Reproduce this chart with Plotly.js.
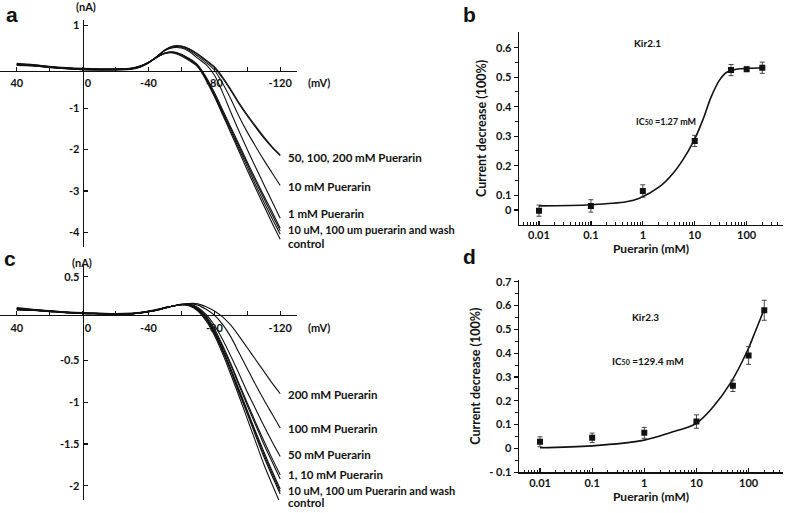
<!DOCTYPE html>
<html><head><meta charset="utf-8">
<script src="https://cdn.plot.ly/plotly-3.0.1.min.js"></script>
<style>html,body{margin:0;padding:0;background:#fff}#chart{width:787px;height:513px}</style>
</head><body><div id="chart"></div>
<script>
// ---------- DATA ----------
// Membrane potential (mV) sampled for the I-V traces
const voltage = [40,30,20,10,0,-10,-20,-30,-35,-40,-45,-50,-55,-60,-65,-70,-75,-80,-85,-90,-95,-100,-105,-110,-115,-120];

// Panel a: Kir2.1 currents (nA)
const aControl = [0.07,0.04,0.0,-0.03,-0.05,-0.06,-0.06,-0.04,0.01,0.10,0.23,0.32,0.33,0.26,0.14,-0.01,-0.33,-0.72,-1.16,-1.60,-2.05,-2.50,-2.93,-3.35,-3.77,-4.17];
const a10uM    = [0.05,0.03,-0.01,-0.04,-0.06,-0.07,-0.07,-0.05,0.0,0.10,0.23,0.33,0.35,0.29,0.17,0.02,-0.28,-0.66,-1.08,-1.50,-1.93,-2.35,-2.77,-3.17,-3.57,-3.96];
const a100uM   = [0.03,0.02,-0.02,-0.05,-0.07,-0.08,-0.08,-0.06,-0.01,0.09,0.22,0.33,0.36,0.30,0.19,0.04,-0.25,-0.62,-1.04,-1.46,-1.88,-2.30,-2.71,-3.11,-3.50,-3.90];
const aWash    = [0.08,0.05,0.01,-0.02,-0.04,-0.05,-0.05,-0.03,0.02,0.11,0.23,0.32,0.34,0.28,0.16,0.01,-0.30,-0.69,-1.12,-1.55,-1.99,-2.42,-2.85,-3.26,-3.66,-4.05];
const a1mM     = [0.06,0.04,0.0,-0.03,-0.05,-0.06,-0.06,-0.04,0.01,0.10,0.24,0.39,0.46,0.45,0.36,0.20,0.05,-0.20,-0.62,-1.10,-1.56,-2.00,-2.42,-2.84,-3.25,-3.66];
const a10mM    = [0.05,0.03,-0.01,-0.04,-0.06,-0.07,-0.07,-0.05,0.0,0.10,0.24,0.40,0.48,0.47,0.39,0.25,0.10,-0.08,-0.40,-0.78,-1.20,-1.58,-1.92,-2.25,-2.56,-2.87];
const a50mM    = [0.06,0.04,0.0,-0.03,-0.05,-0.06,-0.06,-0.04,0.01,0.10,0.24,0.41,0.49,0.49,0.42,0.29,0.14,-0.02,-0.28,-0.58,-0.90,-1.19,-1.46,-1.72,-1.95,-2.15];
const a200mM   = [0.04,0.02,-0.02,-0.05,-0.07,-0.08,-0.07,-0.05,0.0,0.09,0.23,0.40,0.50,0.50,0.43,0.31,0.16,0.0,-0.25,-0.55,-0.87,-1.16,-1.43,-1.69,-1.93,-2.13];

// Panel c: Kir2.3 currents (nA)
const cControl = [0.13,0.11,0.09,0.075,0.065,0.06,0.055,0.06,0.07,0.085,0.105,0.13,0.15,0.165,0.15,0.09,-0.03,-0.20,-0.42,-0.67,-0.93,-1.20,-1.47,-1.74,-1.98,-2.21];
const cWash    = [0.11,0.10,0.085,0.07,0.06,0.055,0.05,0.055,0.065,0.08,0.10,0.125,0.15,0.165,0.155,0.10,-0.01,-0.18,-0.39,-0.63,-0.89,-1.14,-1.40,-1.65,-1.88,-2.10];
const c100uM   = [0.12,0.105,0.095,0.08,0.07,0.065,0.06,0.065,0.075,0.09,0.11,0.13,0.15,0.17,0.16,0.11,0.0,-0.16,-0.37,-0.60,-0.85,-1.10,-1.35,-1.59,-1.82,-2.04];
const c10uM    = [0.10,0.095,0.08,0.07,0.06,0.055,0.05,0.055,0.065,0.08,0.10,0.125,0.15,0.165,0.16,0.105,-0.005,-0.17,-0.38,-0.62,-0.87,-1.12,-1.37,-1.62,-1.85,-2.07];
const c1mM     = [0.12,0.10,0.09,0.075,0.065,0.06,0.055,0.06,0.07,0.085,0.105,0.13,0.15,0.17,0.165,0.12,0.02,-0.14,-0.34,-0.56,-0.80,-1.04,-1.27,-1.50,-1.71,-1.92];
const c10mM    = [0.11,0.10,0.085,0.07,0.06,0.055,0.05,0.055,0.065,0.08,0.10,0.125,0.15,0.17,0.17,0.13,0.03,-0.12,-0.32,-0.54,-0.78,-1.01,-1.24,-1.46,-1.67,-1.87];
const c50mM    = [0.12,0.105,0.09,0.075,0.065,0.06,0.055,0.06,0.07,0.085,0.105,0.13,0.15,0.165,0.17,0.13,0.05,-0.08,-0.25,-0.45,-0.66,-0.88,-1.08,-1.28,-1.47,-1.65];
const c100mM   = [0.11,0.10,0.085,0.07,0.06,0.055,0.05,0.055,0.065,0.08,0.10,0.125,0.15,0.165,0.175,0.16,0.11,0.04,-0.07,-0.22,-0.41,-0.60,-0.79,-0.97,-1.14,-1.31];
const c200mM   = [0.12,0.10,0.09,0.075,0.065,0.06,0.055,0.06,0.07,0.085,0.105,0.13,0.15,0.165,0.18,0.175,0.14,0.09,0.02,-0.08,-0.21,-0.35,-0.49,-0.63,-0.77,-0.90];

// Panel b: Kir2.1 dose-response
const concB   = [0.01,0.1,1,10,50,100,200];
const decB    = [0.048,0.064,0.1145,0.284,0.524,0.527,0.532];
const errB    = [0.019,0.021,0.021,0.019,0.019,0.008,0.019];
const fitBx   = [0.01,0.1,0.48,0.86,2.1,3.8,5.9,9.6,14.3,20.8,30,40,63,113,200];
const fitBy   = [0.064,0.068,0.078,0.09,0.129,0.174,0.22,0.284,0.355,0.434,0.49,0.515,0.527,0.53,0.532];

// Panel d: Kir2.3 dose-response
const concD   = [0.01,0.1,1,10,50,100,200];
const decD    = [0.028,0.0445,0.0655,0.113,0.263,0.39,0.58];
const errD    = [0.021,0.02,0.023,0.028,0.024,0.037,0.042];
const fitDx   = [0.01,0.1,1,3.1,9.8,21,44.5,93,134,200];
const fitDy   = [0.003,0.011,0.035,0.066,0.105,0.175,0.273,0.406,0.49,0.585];

// Tick labels
const ivTickVals = [40,0,-40,-80,-120];
const ivTickText = ['40','\u00a0\u00a0\u00a0\u00a00','-40','-80','-120'];
const ivMinorVals = [20,-20,-60,-100];
const concTickVals = [0.01,0.1,1,10,100];
const concTickText = ['0.01','0.1','1','10','100'];
const aYVals = [1,-1,-2,-3,-4];
const aYText = ['1','-1','-2','-3','-4'];
const cYVals = [0.5,-0.5,-1,-1.5,-2];
const cYText = ['0.5','-0.5','-1','-1.5','-2'];
const bYVals = [0.05,0.1,0.2,0.3,0.4,0.5,0.6];
const bYText = ['0','0.1','0.2','0.3','0.4','0.5','0.6'];
const dYVals = [-0.1,0,0.1,0.2,0.3,0.4,0.5,0.6,0.7];
const dYText = ['- 0.1','0','0.1','0.2','0.3','0.4','0.5','0.6','0.7'];

// ---------- LAYOUT HELPERS ----------
const W = 787, H = 513;
const fx = p => p / W;
const fy = p => 1 - p / H;
const FONT = 'Lato, "Open Sans", sans-serif';
const INK = '#111';
const tickFont = {family: FONT, size: 11, color: INK, weight: 'bold'};

const logMinor = [];
for (let k = -3; k <= 2; k++) for (let m = 2; m <= 9; m++) logMinor.push(+(m * Math.pow(10, k)).toPrecision(3));

const traces = [];
function ivTrace(y, xa, ya) {
  return {x: voltage, y: y, mode: 'lines', line: {color: INK, width: 1.1, shape: 'spline', smoothing: 0.8},
          xaxis: xa, yaxis: ya, showlegend: false, hoverinfo: 'skip'};
}
[aControl, a10uM, a100uM, aWash, a1mM, a10mM, a50mM, a200mM].forEach(s => traces.push(ivTrace(s, 'x', 'y')));
[cControl, cWash, c100uM, c10uM, c1mM, c10mM, c50mM, c100mM, c200mM].forEach(s => traces.push(ivTrace(s, 'x2', 'y2')));

traces.push({x: fitBx, y: fitBy, mode: 'lines', line: {color: INK, width: 1.6, shape: 'spline'}, xaxis: 'x3', yaxis: 'y3', showlegend: false});
traces.push({x: concB, y: decB, mode: 'markers', marker: {symbol: 'square', size: 6, color: INK},
  error_y: {type: 'data', array: errB, color: '#333', thickness: 0.9, width: 2.5}, xaxis: 'x3', yaxis: 'y3', showlegend: false});
traces.push({x: fitDx, y: fitDy, mode: 'lines', line: {color: INK, width: 1.6, shape: 'spline'}, xaxis: 'x4', yaxis: 'y4', showlegend: false});
traces.push({x: concD, y: decD, mode: 'markers', marker: {symbol: 'square', size: 6, color: INK},
  error_y: {type: 'data', array: errD, color: '#333', thickness: 0.9, width: 2.5}, xaxis: 'x4', yaxis: 'y4', showlegend: false});

const ivX = (pos) => ({
  domain: [fx(0), fx(297)], range: [50.2, -130.2], anchor: 'free', position: fy(pos),
  showline: true, linecolor: INK, linewidth: 1.4, ticks: 'inside', ticklen: 4, tickwidth: 1.2, tickcolor: INK,
  tickmode: 'array', tickvals: ivTickVals, ticktext: ivTickText, tickfont: tickFont,
  minor: {tickmode: 'array', tickvals: ivMinorVals, ticks: 'inside', ticklen: 4, tickwidth: 1.2, tickcolor: INK},
  showgrid: false, zeroline: false, ticklabelstandoff: 2
});
const ivY = (top, bot, range, vals, text) => ({
  domain: [fy(bot), fy(top)], range: range, anchor: 'free', position: fx(82.7),
  showline: true, linecolor: INK, linewidth: 1.4, ticks: 'inside', ticklen: 4, tickwidth: 1.2, tickcolor: INK,
  tickmode: 'array', tickvals: vals, ticktext: text, tickfont: tickFont,
  showgrid: false, zeroline: false, ticklabelstandoff: 1
});
const concX = (range, ya, title) => ({
  type: 'log', domain: [fx(519), fx(783)], range: range, anchor: ya,
  showline: true, linecolor: INK, linewidth: 1.4, ticks: 'inside', ticklen: 4, tickwidth: 1.2, tickcolor: INK,
  tickmode: 'array', tickvals: concTickVals, ticktext: concTickText, tickfont: tickFont,
  minor: {tickmode: 'array', tickvals: logMinor, ticks: 'inside', ticklen: 2.5, tickwidth: 1, tickcolor: INK},
  showgrid: false, zeroline: false,
  title: {text: title, font: {family: FONT, size: 12, color: INK, weight: 'bold'}, standoff: 2}
});
const decY = (top, bot, range, vals, text, minorVals, xa) => ({
  domain: [fy(bot), fy(top)], range: range, anchor: xa,
  showline: true, linecolor: INK, linewidth: 1.4, ticks: 'outside', ticklen: 4, tickwidth: 1.2, tickcolor: INK,
  tickmode: 'array', tickvals: vals, ticktext: text, tickfont: tickFont,
  minor: {tickmode: 'array', tickvals: minorVals, ticks: 'outside', ticklen: 2.5, tickwidth: 1, tickcolor: INK},
  showgrid: false, zeroline: false,
  title: {text: 'Current decrease (100%)', font: {family: FONT, size: 12.5, color: INK, weight: 'bold'}, standoff: 6}
});

const lab = (txt, x, y, size, opts) => Object.assign({
  text: txt, xref: 'paper', yref: 'paper', x: fx(x), y: fy(y), showarrow: false,
  xanchor: 'left', yanchor: 'middle', font: {family: FONT, size: size || 11, color: INK, weight: 'bold'}
}, opts || {});
const letterFont = {family: '"Liberation Sans", Arial, sans-serif', size: 21, color: INK, weight: 'bold'};
const ic50 = v => 'IC<span style="font-size:7px">50</span> =' + v + ' mM';

const annotations = [
  lab('a', 12, 14, 21, {xanchor: 'center', font: letterFont}),
  lab('b', 469, 14, 21, {xanchor: 'center', font: letterFont}),
  lab('c', 10, 258, 21, {xanchor: 'center', font: letterFont}),
  lab('d', 470, 256, 21, {xanchor: 'center', font: letterFont}),
  lab('(nA)', 86, 7, 11, {xanchor: 'center'}),
  lab('(mV)', 319, 83, 11, {xanchor: 'center'}),
  lab('(nA)', 82, 262, 11, {xanchor: 'center'}),
  lab('(mV)', 319, 327, 11, {xanchor: 'center'}),
  lab('50, 100, 200 mM Puerarin', 286, 157, 11.5),
  lab('10 mM Puerarin', 286, 186, 11.5),
  lab('1 mM Puerarin', 286, 213, 11.5),
  lab('10 uM, 100 um puerarin and wash', 286, 229, 11),
  lab('control', 286, 243.5, 11.5),
  lab('200 mM Puerarin', 286, 394, 11.5),
  lab('100 mM Puerarin', 286, 428, 11.5),
  lab('50 mM Puerarin', 286, 454, 11.5),
  lab('1, 10 mM Puerarin', 286, 474, 11.5),
  lab('10 uM, 100 um Puerarin and wash', 286, 490, 11),
  lab('control', 286, 502.5, 11.5),
  lab('Kir2.1', 647, 43, 10, {xanchor: 'center'}),
  lab(ic50('1.27'), 634, 121, 9),
  lab('Kir2.3', 645, 317, 10, {xanchor: 'center'}),
  lab(ic50('129.4'), 610, 361, 10)
];

const layout = {
  width: W, height: H, margin: {l: 0, r: 0, t: 0, b: 0},
  paper_bgcolor: '#fff', plot_bgcolor: 'rgba(0,0,0,0)', showlegend: false,
  font: {family: FONT, color: INK},
  xaxis: ivX(70.5),
  yaxis: ivY(20, 247, [-4.355, 1.128], aYVals, aYText),
  xaxis2: ivX(315),
  yaxis2: ivY(265, 500, [-2.171, 0.64], cYVals, cYText),
  xaxis3: concX([-2.385, 2.70], 'y3', 'Puerarin (mM)'),
  yaxis3: decY(32, 224.8, [0, 0.653], bYVals, bYText, [0.15,0.25,0.35,0.45,0.55], 'x3'),
  xaxis4: concX([-2.403, 2.66], 'y4', 'Puerarin (mM)'),
  yaxis4: decY(280, 472.3, [-0.1, 0.707], dYVals, dYText, [-0.05,0.05,0.15,0.25,0.35,0.45,0.55,0.65], 'x4'),
  annotations: annotations
};

Plotly.newPlot('chart', traces, layout, {staticPlot: true, displayModeBar: false});
</script></body></html>
